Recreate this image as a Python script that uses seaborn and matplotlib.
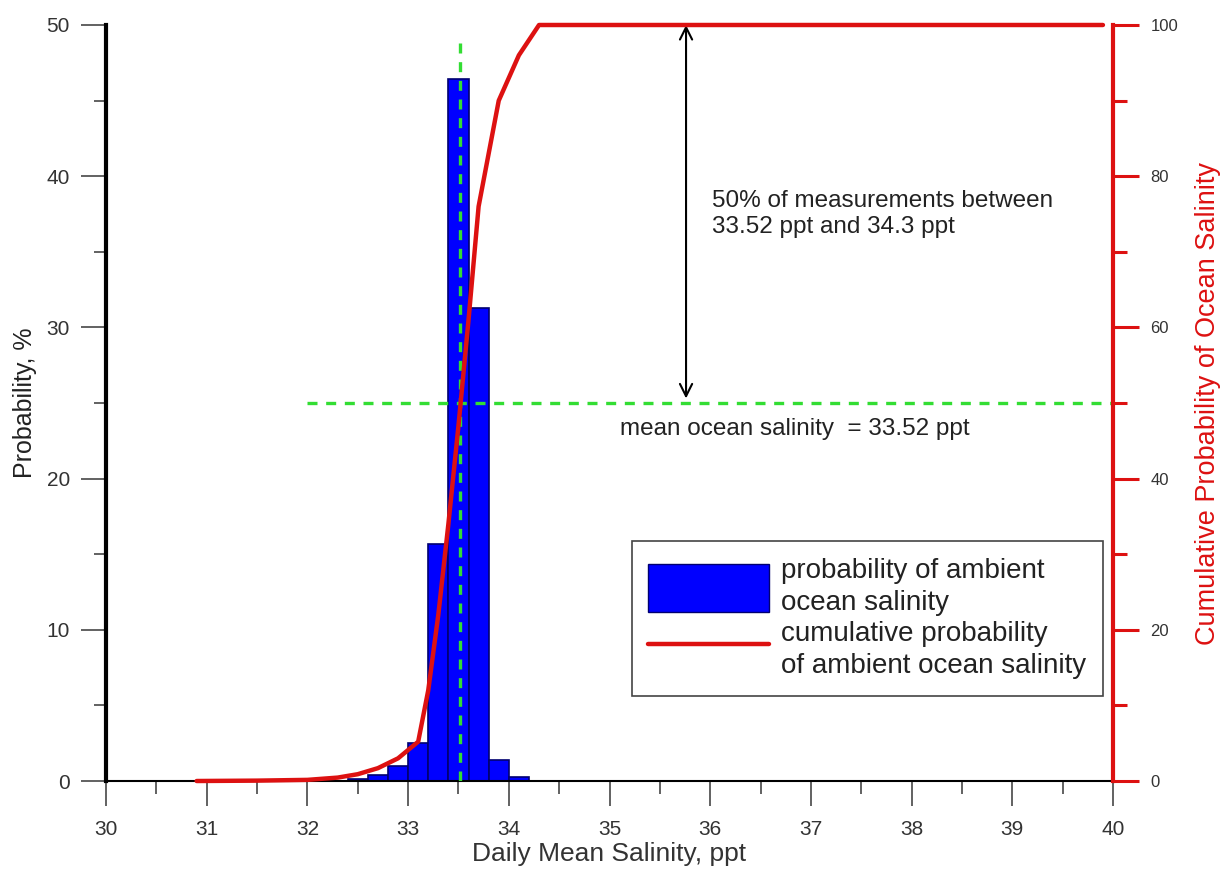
import matplotlib
matplotlib.use("Agg")
import matplotlib.pyplot as plt
import seaborn as sns
import pandas as pd
from matplotlib.ticker import MultipleLocator
from matplotlib.patches import Patch
from matplotlib.lines import Line2D

# histogram of daily mean salinity (0.2 ppt bins, values in %)
bin_centers = [32.5, 32.7, 32.9, 33.1, 33.3, 33.5, 33.7, 33.9, 34.1]
probability = [0.15, 0.4, 1.0, 2.5, 15.7, 46.4, 31.3, 1.4, 0.25]

# cumulative probability curve (%)
cum_salinity = [30.9, 31.5, 32.0, 32.3, 32.5, 32.7, 32.9, 33.1, 33.2, 33.3,
                33.4, 33.5, 33.6, 33.7, 33.9, 34.1, 34.3, 39.9]
cum_probability = [0.0, 0.05, 0.15, 0.45, 0.9, 1.7, 3.0, 5.2, 12.0, 22.0,
                   34.0, 47.0, 61.0, 76.0, 90.0, 96.0, 100.0, 100.0]

mean_salinity = 33.52
half_level = 25          # 50 % on the cumulative axis, in left-axis units
mean_line_top = 49

hist_df = pd.DataFrame({"salinity": bin_centers, "prob": probability})
cum_df = pd.DataFrame({"salinity": cum_salinity, "cum": cum_probability})

sns.set_style("ticks")
plt.rcParams["font.family"] = ["Liberation Sans", "DejaVu Sans"]

fig = plt.figure(figsize=(12.2, 8.74), dpi=100)
ax = fig.add_axes([0.0869, 0.1064, 0.8254, 0.8650])

sns.histplot(data=hist_df, x="salinity", weights="prob", binwidth=0.2,
             binrange=(30, 40), color="#0000ff", edgecolor="#000070",
             linewidth=1.2, alpha=1, ax=ax)

green = "#33dd33"
ax.vlines(mean_salinity, 0, mean_line_top, colors=green, linewidth=2.4,
          linestyles=(0, (3.0, 2.6)), zorder=5)
ax.hlines(half_level, 32, 40, colors=green, linewidth=2.4,
          linestyles=(0, (3.0, 2.6)), zorder=5)

ax.set_xlim(30, 40)
ax.set_ylim(0, 50)
ax.xaxis.set_major_locator(MultipleLocator(1))
ax.xaxis.set_minor_locator(MultipleLocator(0.5))
ax.yaxis.set_major_locator(MultipleLocator(10))
ax.yaxis.set_minor_locator(MultipleLocator(5))
ax.set_xlabel("Daily Mean Salinity, ppt", fontsize=19, color="#333333", labelpad=2)
ax.set_ylabel("Probability, %", fontsize=18, color="#222222", labelpad=7)

ax.tick_params(axis="y", which="major", direction="out", length=18, width=1.3,
               color="#555555", labelsize=15, labelcolor="#333333", pad=8)
ax.tick_params(axis="y", which="minor", direction="out", length=9, width=1.3,
               color="#555555")
ax.tick_params(axis="x", which="major", direction="out", length=18, width=1.3,
               color="#555555", labelsize=15, labelcolor="#333333", pad=10)
ax.tick_params(axis="x", which="minor", direction="out", length=9, width=1.3,
               color="#555555")

for s in ["top", "right"]:
    ax.spines[s].set_visible(False)
ax.spines["left"].set_linewidth(3)
ax.spines["left"].set_color("black")
ax.spines["bottom"].set_linewidth(1.5)
ax.spines["bottom"].set_color("black")

ax.annotate("", xy=(35.76, 50), xytext=(35.76, half_level + 0.3),
            arrowprops=dict(arrowstyle="<->", color="black", lw=1.5,
                            mutation_scale=22, shrinkA=0, shrinkB=0),
            annotation_clip=False)
ax.text(36.02, 37.5, "50% of measurements between\n33.52 ppt and 34.3 ppt",
        fontsize=17.5, color="#222222", ha="left", va="center", linespacing=1.2)
ax.text(35.1, 23.3, "mean ocean salinity  = 33.52 ppt", fontsize=17.5,
        color="#222222", ha="left", va="center")

red = "#dd1111"
ax2 = ax.twinx()
sns.lineplot(data=cum_df, x="salinity", y="cum", sort=False, color=red,
             linewidth=3.2, ax=ax2, clip_on=False)
ax2.set_ylim(0, 100)
ax2.set_xlim(30, 40)
ax2.yaxis.set_major_locator(MultipleLocator(20))
ax2.yaxis.set_minor_locator(MultipleLocator(10))
ax2.set_ylabel("Cumulative Probability of Ocean Salinity", fontsize=19.5,
               color=red, labelpad=12)
ax2.tick_params(axis="y", which="major", direction="out", length=19, width=2.2,
                color=red, labelsize=12, labelcolor="#333333", pad=8)
ax2.tick_params(axis="y", which="minor", direction="out", length=10, width=2.2,
                color=red)
for s in ["top", "left", "bottom"]:
    ax2.spines[s].set_visible(False)
ax2.spines["right"].set_color(red)
ax2.spines["right"].set_linewidth(3)

handles = [Patch(facecolor="#0000ff", edgecolor="#000070"),
           Line2D([0], [0], color=red, linewidth=3.2)]
labels = ["probability of ambient\nocean salinity",
          "cumulative probability\nof ambient ocean salinity"]
leg = ax2.legend(handles, labels, loc="upper left", bbox_to_anchor=(0.522, 0.3175),
                 borderaxespad=0, fontsize=20, handlelength=4.35, handleheight=2.29,
                 fancybox=False, framealpha=1, edgecolor="#444444",
                 labelspacing=0.2, handletextpad=0.42, borderpad=0.6,
                 labelcolor="#222222")
for t in leg.get_texts():
    t.set_linespacing(1.3)
leg.get_frame().set_linewidth(1.2)

fig.savefig("out.png", dpi=100)
